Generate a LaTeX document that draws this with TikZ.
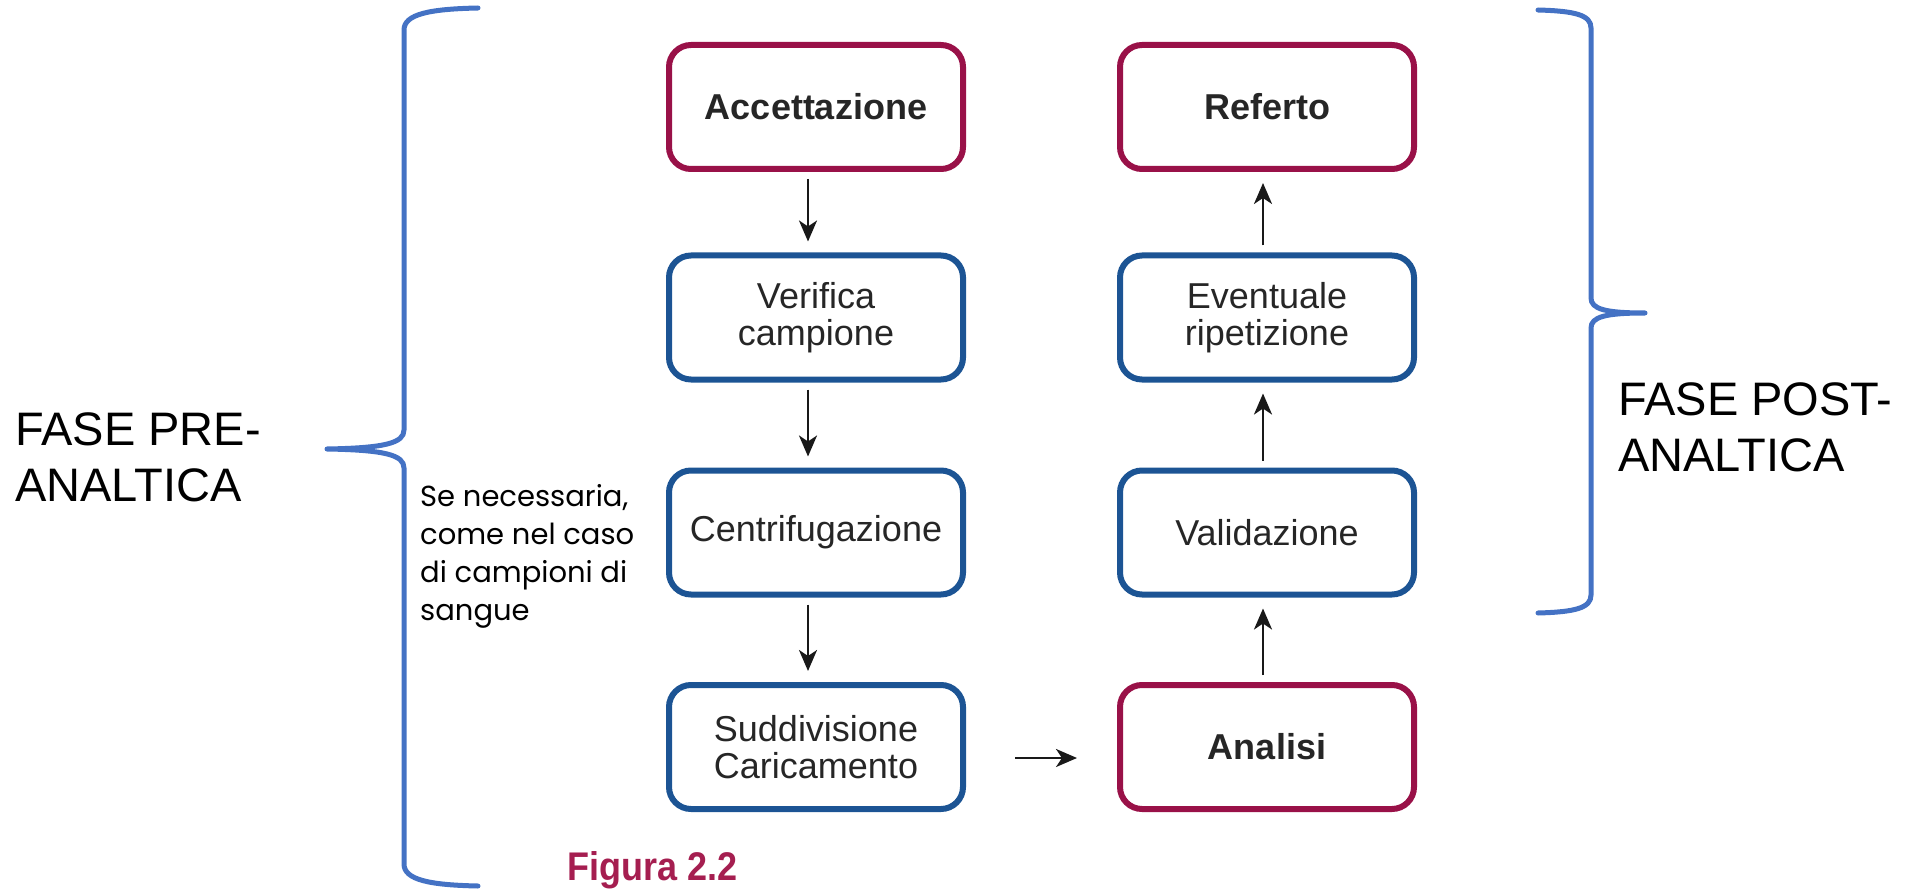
\documentclass[tikz,border=0pt]{standalone}
\usepackage{fontspec}
\usepackage{graphicx}
\setmainfont{Liberation Sans}
\newfontfamily\handfont{Poppins}
\usetikzlibrary{arrows.meta,calc}
\definecolor{boxred}{RGB}{153,17,72}
\definecolor{boxblue}{RGB}{28,84,148}
\definecolor{bracecol}{RGB}{68,114,196}
\definecolor{figred}{RGB}{165,30,80}
\begin{document}
\begin{tikzpicture}[x=1pt,y=-1pt,
  stepbox/.style={draw, rounded corners=22pt, line width=6pt, minimum width=294pt, minimum height=124pt, inner sep=0pt, align=center, text=black!85},
  redbox/.style={stepbox, draw=boxred, font=\fontsize{36}{37}\selectfont\bfseries},
  bluebox/.style={stepbox, draw=boxblue, font=\fontsize{36}{37}\selectfont},
  arr/.style={-{Stealth[length=21pt,width=18pt,inset=6pt]}, line width=2.6pt, black!90, shorten <=7pt, shorten >=11pt},
  bracestyle/.style={bracecol, line width=5pt, line cap=round, line join=round},
  phase/.style={anchor=north west, inner sep=0pt, align=left, font=\fontsize{47}{56}\selectfont}
]
\useasboundingbox (0,0) rectangle (1908,890);

% boxes
\node[redbox]  (acc) at (816,107)   {Accettazione};
\node[bluebox] (ver) at (816,317.5) {Verifica\\campione};
\node[bluebox] (cen) at (816,532.5) {Centrifugazione};
\node[bluebox] (sud) at (816,747)   {Suddivisione\\Caricamento};
\node[redbox]  (ana) at (1267,747)  {Analisi};
\node[bluebox] (val) at (1267,532.5){Validazione};
\node[bluebox] (eve) at (1267,317.5){Eventuale\\ripetizione};
\node[redbox]  (ref) at (1267,107)  {Referto};

% arrows
\draw[arr] ([xshift=-8pt]acc.south) -- ([xshift=-8pt]ver.north);
\draw[arr] ([xshift=-8pt]ver.south) -- ([xshift=-8pt]cen.north);
\draw[arr] ([xshift=-8pt]cen.south) -- ([xshift=-8pt]sud.north);
\draw[arr, shorten <=49pt, shorten >=40pt] ([yshift=-11pt]sud.east) -- ([yshift=-11pt]ana.west);
\draw[arr] ([xshift=-4pt]ana.north) -- ([xshift=-4pt]val.south);
\draw[arr] ([xshift=-4pt]val.north) -- ([xshift=-4pt]eve.south);
\draw[arr] ([xshift=-4pt]eve.north) -- ([xshift=-4pt]ref.south);

% texts
\node[phase] (pre) at (15,412) {FASE PRE-\\ANALTICA};
\node[phase] (post) at (1618,382) {FASE POST-\\ANALTICA};
\node[anchor=north west, inner sep=0pt, align=left, font=\handfont\fontsize{29}{38}\selectfont] (note) at (420,484)
  {Se necessaria,\\come nel caso\\di campioni di\\sangue};
\node[anchor=north west, inner sep=0pt, text=figred, font=\fontsize{40}{40}\selectfont\bfseries] (fig) at (567,851)
  {\scalebox{0.9}[1]{Figura 2.2}};

% left brace
\draw[bracestyle] (478,8) .. controls (430,9) and (404,14) .. (404,30) -- (404,430)
  .. controls (404,443) and (385,448) .. (327,449)
  .. controls (385,450) and (404,455) .. (404,468) -- (404,864)
  .. controls (404,880) and (430,885) .. (478,886);
% right brace
\draw[bracestyle] (1538,10) .. controls (1575,11) and (1591,15) .. (1591,28) -- (1591,298)
  .. controls (1591,309) and (1605,313) .. (1645,313)
  .. controls (1605,313) and (1591,317) .. (1591,328) -- (1591,595)
  .. controls (1591,608) and (1575,612) .. (1538,613);
\end{tikzpicture}
\end{document}
